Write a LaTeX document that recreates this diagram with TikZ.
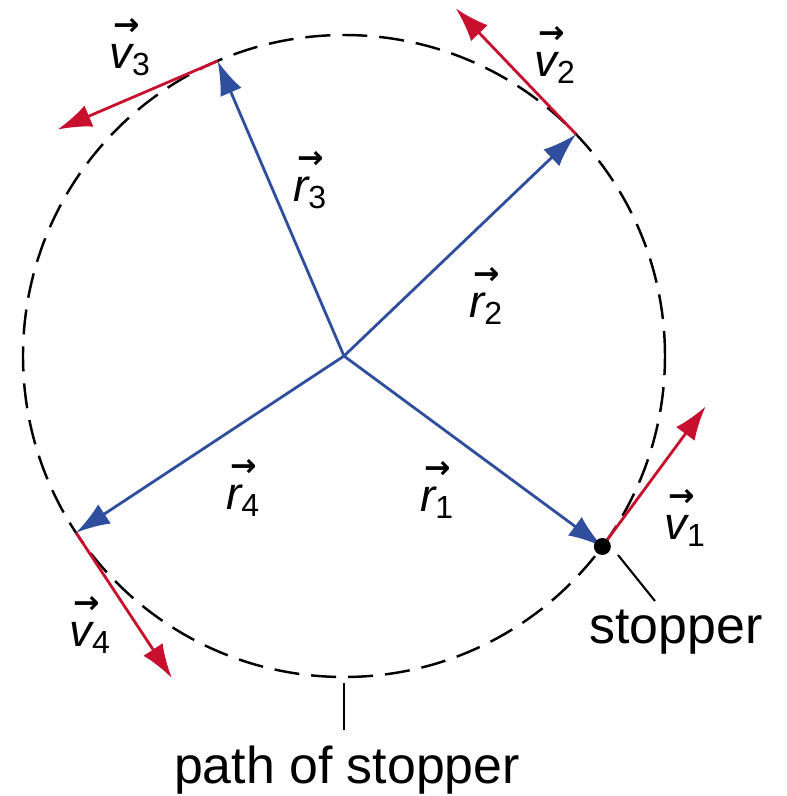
\documentclass[tikz,border=0pt]{standalone}
\usepackage{fontspec}
\setmainfont{Liberation Sans}
\newfontfamily\arrowfont{DejaVu Sans}
\usetikzlibrary{arrows.meta, calc}
\definecolor{vecblue}{HTML}{2F4F9E}
\definecolor{vecred}{HTML}{C8102E}
\newcommand{\arrlbl}[2]{\rlap{\hspace{2.5pt}\raisebox{18.5pt}{\arrowfont\bfseries\fontsize{18}{18}\selectfont →}}{\itshape #1}\textsubscript{#2}}

\begin{document}
\begin{tikzpicture}[
  track/.style={dash pattern=on 0.5cm off 0.24cm, line width=1.4pt},
  rvec/.style={-{Latex[length=0.68cm,width=0.46cm]}, vecblue, line width=1.6pt},
  vvec/.style={-{Latex[length=0.68cm,width=0.46cm]}, vecred, line width=1.6pt},
  pointer/.style={line width=1.2pt},
  lbl/.style={font=\fontsize{26}{30}\selectfont, inner sep=0pt},
  txt/.style={font=\fontsize{29.5}{33}\selectfont, inner sep=0pt},
]
  \useasboundingbox (-6.88,-8.80) rectangle (8.86,7.12);

  % Path of the stopper
  \coordinate (ctr) at (0,0);
  \draw[track] (ctr) circle (6.42);

  % Positions on the circle
  \coordinate (p1) at (-36.4:6.42);
  \coordinate (p2) at (43.7:6.42);
  \coordinate (p3) at (113.2:6.42);
  \coordinate (p4) at (213.4:6.42);

  % Tangential tips
  \coordinate (t1) at ($(p1)+(53.6:3.48)$);
  \coordinate (t2) at ($(p2)+(133.7:3.48)$);
  \coordinate (t3) at ($(p3)+(203.2:3.48)$);
  \coordinate (t4) at ($(p4)+(303.4:3.48)$);

  % Radius vectors
  \draw[rvec] (ctr) -- (p1);
  \draw[rvec] (ctr) -- (p2);
  \draw[rvec] (ctr) -- (p3);
  \draw[rvec] (ctr) -- (p4);

  % Velocity vectors
  \draw[vvec] (p1) -- (t1);
  \draw[vvec] (p2) -- (t2);
  \draw[vvec] (p3) -- (t3);
  \draw[vvec] (p4) -- (t4);

  % Stopper
  \fill (p1) circle (0.17);

  % Labels
  \node[lbl] (r1lbl) at (1.86,-2.68) {\arrlbl{r}{1}};
  \node[lbl] (r2lbl) at (2.84,1.20) {\arrlbl{r}{2}};
  \node[lbl] (r3lbl) at (-0.68,3.52) {\arrlbl{r}{3}};
  \node[lbl] (r4lbl) at (-2.02,-2.64) {\arrlbl{r}{4}};
  \node[lbl] (v1lbl) at (6.82,-3.24) {\arrlbl{v}{1}};
  \node[lbl] (v2lbl) at (4.22,6.02) {\arrlbl{v}{2}};
  \node[lbl] (v3lbl) at (-4.28,6.18) {\arrlbl{v}{3}};
  \node[lbl] (v4lbl) at (-5.08,-5.38) {\arrlbl{v}{4}};

  \node[txt] (stopper) at (6.64,-5.52) {stopper};
  \node[txt] (trackname) at (0.06,-8.28) {path of stopper};

  % Pointers
  \coordinate (s0) at (5.48,-3.98);
  \coordinate (s1) at (6.22,-4.90);
  \draw[pointer] (s0) -- (s1);
  \coordinate (b0) at (0,-6.54);
  \coordinate (b1) at (0,-7.48);
  \draw[pointer] (b0) -- (b1);
\end{tikzpicture}
\end{document}
